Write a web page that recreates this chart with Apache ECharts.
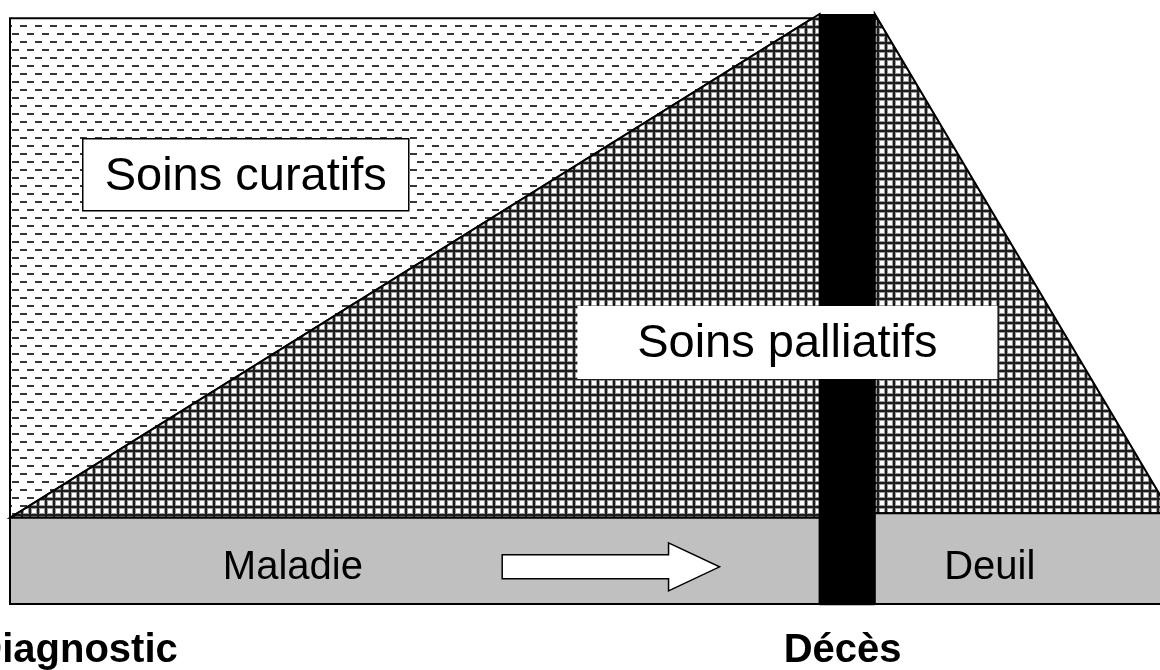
<!DOCTYPE html>
<html>
<head>
<meta charset="utf-8">
<script src="https://cdn.jsdelivr.net/npm/echarts@6/dist/echarts.min.js"></script>
<style>
  html, body { margin: 0; padding: 0; background: #fff; }
  #chart1 { width: 1160px; height: 670px; }
</style>
</head>
<body>
<div id="chart1"></div>
<script>
// phases along the bottom (x from 0 to 100, y from 0 to 100)
var bandNames = ['Maladie', 'Décès', 'Deuil'];
var bandStart = [0, 70.4, 75.2];
var bandEnd = [70.4, 75.2, 100.3];
var bandTop = [14.6, 100, 15.4];
var bandBottom = [0, -0.2, 0];

// zones of care
var curatifX = [0, 0, 69.8];
var curatifY = [14.6, 99.3, 99.3];
var palliatifX = [[0, 70.4, 70.4], [75.2, 75.2, 100.3, 100.3]];
var palliatifY = [[14.6, 100, 14.6], [15.4, 100, 17.5, 15.4]];

// arrow in the illness band
var arrowFrom = 42.8;
var arrowTo = 61.7;
var arrowY = 6.3;

// labels
var boxLabels = ['Soins curatifs', 'Soins palliatifs'];
var boxX = [20.5, 67.6];
var boxY = [72.4, 44.0];
var bandLabels = ['Maladie', 'Deuil'];
var bandLabelX = [24.6, 85.2];
var bandLabelY = [6.1, 6.1];
var eventLabels = ['Diagnostic', 'Décès'];
var eventX = [5.7, 72.4];
var eventY = [-8.0, -8.0];

var FONT = '"Liberation Sans", Arial, sans-serif';

function dashTile() {
	var c = document.createElement('canvas');
	c.width = 30; c.height = 16;
	var g = c.getContext('2d');
	g.fillStyle = '#fff';
	g.fillRect(0, 0, 30, 16);
	g.fillStyle = '#363636';
	g.fillRect(12, 1, 7, 2); g.fillRect(27, 1, 3, 2); g.fillRect(0, 1, 4, 2);
	g.fillRect(5, 9, 7, 2); g.fillRect(20, 9, 7, 2);
	return c;
}
function gridTile() {
	var c = document.createElement('canvas');
	c.width = 8; c.height = 8;
	var g = c.getContext('2d');
	g.fillStyle = '#fff';
	g.fillRect(0, 0, 8, 8);
	g.fillStyle = '#9a9a9a';
	g.fillRect(4, 0, 4, 8);
	g.fillRect(0, 1, 8, 4);
	g.fillStyle = '#fff';
	g.fillRect(0, 5, 4, 3);
	g.fillStyle = '#1e1e1e';
	g.fillRect(5, 0, 2, 8);
	g.fillRect(0, 2, 8, 2);
	return c;
}
var dashFill = { image: dashTile(), repeat: 'repeat' };
var gridFill = { image: gridTile(), repeat: 'repeat' };

function poly(api, xs, ys) {
	var pts = [];
	for (var i = 0; i < xs.length; i++) {
		pts.push(api.coord([xs[i], ys[i]]));
	}
	return pts;
}

var chart1 = echarts.init(document.getElementById('chart1'));

var option = {
	backgroundColor: '#fff',
	animation: false,
	grid: { left: 10, right: 0, top: 14, bottom: 66 },
	xAxis: { type: 'value', min: 0, max: 100, show: false },
	yAxis: { type: 'value', min: 0, max: 100, show: false },
	series: [{
		// curative + palliative zones
		type: 'custom',
		clip: false,
		silent: true,
		data: [[0], [1], [2]],
		renderItem: function (params, api) {
			var i = params.dataIndex;
			if (i === 0) {
				return {
					type: 'polygon',
					shape: { points: poly(api, curatifX, curatifY) },
					style: { fill: dashFill, stroke: '#000', lineWidth: 2 }
				};
			}
			return {
				type: 'polygon',
				shape: { points: poly(api, palliatifX[i - 1], palliatifY[i - 1]) },
				style: { fill: gridFill, stroke: '#000', lineWidth: 2 }
			};
		}
	}, {
		// bottom bands and the death bar
		type: 'custom',
		clip: false,
		silent: true,
		data: bandNames.map(function (n, i) { return [bandStart[i], bandEnd[i], bandBottom[i], bandTop[i]]; }),
		renderItem: function (params, api) {
			var p0 = api.coord([api.value(0), api.value(3)]);
			var p1 = api.coord([api.value(1), api.value(2)]);
			var dark = params.dataIndex === 1;
			return {
				type: 'rect',
				shape: { x: p0[0], y: p0[1], width: p1[0] - p0[0], height: p1[1] - p0[1] },
				style: dark ? { fill: '#000' } : { fill: '#c0c0c0', stroke: '#000', lineWidth: 2 }
			};
		}
	}, {
		// arrow
		type: 'custom',
		clip: false,
		silent: true,
		data: [[arrowFrom, arrowTo, arrowY]],
		renderItem: function (params, api) {
			var a = api.coord([api.value(0), api.value(2)]);
			var b = api.coord([api.value(1), api.value(2)]);
			var hx = b[0] - 51, y = a[1];
			return {
				type: 'polygon',
				shape: { points: [[a[0], y - 12], [hx, y - 12], [hx, y - 24], [b[0], y], [hx, y + 24], [hx, y + 12], [a[0], y + 12]] },
				style: { fill: '#fff', stroke: '#000', lineWidth: 1.5 }
			};
		}
	}, {
		// boxed labels
		type: 'custom',
		clip: false,
		silent: true,
		data: boxLabels.map(function (t, i) { return [boxX[i], boxY[i]]; }),
		renderItem: function (params, api) {
			var i = params.dataIndex;
			var p = api.coord([api.value(0), api.value(1)]);
			var w = i === 0 ? 326 : 420, h = i === 0 ? 72 : 73;
			return {
				type: 'group',
				children: [{
					type: 'rect',
					shape: { x: p[0] - w / 2, y: p[1] - h / 2 - 2, width: w, height: h },
					style: i === 0 ? { fill: '#fff', stroke: '#000', lineWidth: 1.5 } : { fill: '#fff' }
				}, {
					type: 'text',
					x: p[0], y: p[1],
					style: { text: boxLabels[i], font: '47px ' + FONT, fill: '#000', align: 'center', verticalAlign: 'middle' }
				}]
			};
		}
	}, {
		// band labels
		type: 'custom',
		clip: false,
		silent: true,
		data: bandLabels.map(function (t, i) { return [bandLabelX[i], bandLabelY[i]]; }),
		renderItem: function (params, api) {
			var p = api.coord([api.value(0), api.value(1)]);
			return {
				type: 'text',
				x: p[0], y: p[1],
				style: { text: bandLabels[params.dataIndex], font: '40px ' + FONT, fill: '#000', align: 'center', verticalAlign: 'middle' }
			};
		}
	}, {
		// event labels under the chart
		type: 'custom',
		clip: false,
		silent: true,
		data: eventLabels.map(function (t, i) { return [eventX[i], eventY[i]]; }),
		renderItem: function (params, api) {
			var p = api.coord([api.value(0), api.value(1)]);
			return {
				type: 'text',
				x: p[0], y: p[1],
				style: { text: eventLabels[params.dataIndex], font: 'bold 40px ' + FONT, fill: '#000', align: 'center', verticalAlign: 'middle' }
			};
		}
	}]
};
chart1.setOption(option);
</script>
</body>
</html>
